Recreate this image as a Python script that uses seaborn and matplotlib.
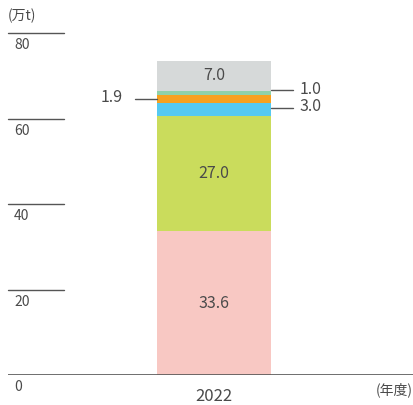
import numpy as np
import pandas as pd
import matplotlib
matplotlib.use("Agg")
import matplotlib.pyplot as plt
import seaborn as sns

# data (bottom to top)
years = ["2022"]
segments = ["seg1", "seg2", "seg3", "seg4", "seg5", "seg6"]
values = [33.6, 27.0, 3.0, 1.9, 1.0, 7.0]
colors = ["#F8C8C3", "#CADC5C", "#56C9F1", "#F7A11F", "#8FD1A9", "#D6D9D9"]
yticks = [0, 20, 40, 60, 80]

sns.set_style("white")
plt.rcParams["font.family"] = ["Noto Sans CJK JP", "DejaVu Sans"]
text_color = "#4a4a4a"
line_color = "#555555"

fig = plt.figure(figsize=(4.13, 4.05), dpi=100)
ax = fig.add_axes([8 / 413, 30 / 405, 405 / 413, 342 / 405])

cum = np.cumsum(values)

# draw from the tallest cumulative bar down so each layer shows
for i in range(len(values) - 1, -1, -1):
    sns.barplot(x=[years[0]], y=[cum[i]], color=colors[i], width=0.8,
                saturation=1, linewidth=0, ax=ax, zorder=2)

ax.set_ylim(0, 80)
ax.set_xlim(-206 / 142.5, (405 - 206) / 142.5)
for s in ax.spines.values():
    s.set_visible(False)
ax.set_xticks([])
ax.set_yticks([])
ax.set_xlabel("")
ax.set_ylabel("")

# short tick lines with labels under them
for t in yticks:
    if t == 0:
        ax.axhline(0, color=line_color, lw=1.2, zorder=3)
    else:
        ax.plot([0, 56 / 405], [t, t], transform=ax.get_yaxis_transform(),
                color=line_color, lw=1.0, clip_on=False)
    ax.text(6 / 405, t - 1.2, str(t), transform=ax.get_yaxis_transform(),
            ha="left", va="top", fontsize=10, color=text_color)

ax.text(0, 82.2, "(万t)", transform=ax.get_yaxis_transform(), ha="left",
        va="bottom", fontsize=10, color=text_color)
ax.text(0, -3.0, years[0], ha="center", va="top", fontsize=12, color=text_color)
ax.text(1.0, -1.8, "(年度)", transform=ax.get_yaxis_transform(), ha="right",
        va="top", fontsize=10, color=text_color)

bottoms = cum - np.array(values)
mids = bottoms + np.array(values) / 2
# inside labels
for i in [0, 1, 5]:
    ax.text(0, mids[i], f"{values[i]:.1f}", ha="center", va="center",
            fontsize=11.5, color=text_color)

# callouts
half = 0.4
ax.plot([-half - 22 / 142.5, -half], [mids[3], mids[3]], color=line_color, lw=1)
ax.text(-half - 34 / 142.5, mids[3] + 0.3, f"{values[3]:.1f}", ha="right",
        va="center", fontsize=11.5, color=text_color)
for i, dy in [(4, 0.6), (2, 0.3)]:
    ax.plot([half, half + 22 / 142.5], [mids[i] + dy, mids[i] + dy],
            color=line_color, lw=1)
    ax.text(half + 29 / 142.5, mids[i] + dy + 0.3, f"{values[i]:.1f}",
            ha="left", va="center", fontsize=11.5, color=text_color)

fig.savefig("out.png", dpi=100)
